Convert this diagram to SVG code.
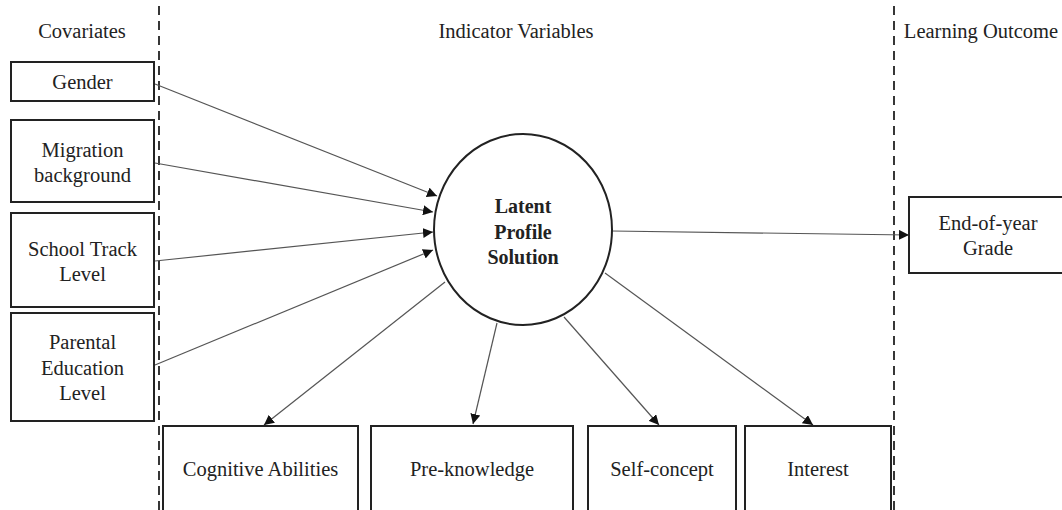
<svg xmlns="http://www.w3.org/2000/svg" width="1062" height="510" viewBox="0 0 1062 510">
<style>
.box{fill:#fff;stroke:#222;stroke-width:2}
.t{font-family:"Liberation Serif","Times New Roman",serif;font-size:20.5px;fill:#222;text-anchor:middle}
.b{font-weight:bold;font-size:20px}
.dash{stroke:#222;stroke-width:1.8;stroke-dasharray:9 6;fill:none}
.c{stroke:#555;stroke-width:1.2;fill:none;marker-end:url(#ah)}
</style>
<defs>
<marker id="ah" viewBox="0 0 10 10" refX="10" refY="5" markerWidth="10" markerHeight="10" markerUnits="userSpaceOnUse" orient="auto">
<path d="M0,0 L10,5 L0,10 Z" fill="#111"/>
</marker>
</defs>
<rect width="1062" height="510" fill="#fff"/>
<g id="dividers">
<line class="dash" x1="159" y1="6" x2="159" y2="510"/>
<line class="dash" x1="894" y1="6" x2="894" y2="510"/>
</g>
<g id="headers">
<text class="t" x="82" y="38">Covariates</text>
<text class="t" x="516" y="38">Indicator Variables</text>
<text class="t" x="981" y="38">Learning Outcome</text>
</g>
<g id="connectors">
<line class="c" x1="155" y1="84" x2="437" y2="196"/>
<line class="c" x1="155" y1="163" x2="433" y2="212"/>
<line class="c" x1="155" y1="261" x2="433" y2="232"/>
<line class="c" x1="155" y1="365" x2="433" y2="250"/>
<line class="c" x1="612" y1="231" x2="909" y2="235"/>
<line class="c" x1="445" y1="282" x2="264" y2="425"/>
<line class="c" x1="497" y1="323" x2="473" y2="424"/>
<line class="c" x1="564" y1="317" x2="659" y2="425"/>
<line class="c" x1="605" y1="273" x2="813" y2="425"/>
</g>
<g id="gender"><rect class="box" x="11" y="62" width="143" height="39"/><text class="t" x="82.5" y="89">Gender</text></g>
<g id="migration"><rect class="box" x="11" y="120" width="143" height="82"/><text class="t" x="82.5" y="157">Migration</text><text class="t" x="82.5" y="182">background</text></g>
<g id="schooltrack"><rect class="box" x="11" y="213" width="143" height="94"/><text class="t" x="82.5" y="256">School Track</text><text class="t" x="82.5" y="281">Level</text></g>
<g id="parental"><rect class="box" x="11" y="313" width="143" height="108"/><text class="t" x="82.5" y="349">Parental</text><text class="t" x="82.5" y="375">Education</text><text class="t" x="82.5" y="400">Level</text></g>
<g id="latent"><ellipse cx="523" cy="229.5" rx="89" ry="95.5" fill="#fff" stroke="#222" stroke-width="2"/><text class="t b" x="523" y="213">Latent</text><text class="t b" x="523" y="239">Profile</text><text class="t b" x="523" y="264">Solution</text></g>
<g id="grade"><rect class="box" x="909" y="197" width="160" height="76"/><text class="t" x="988" y="230">End-of-year</text><text class="t" x="988" y="255">Grade</text></g>
<g id="cognitive"><rect class="box" x="163" y="426" width="195" height="100"/><text class="t" x="260.5" y="476">Cognitive Abilities</text></g>
<g id="preknowledge"><rect class="box" x="371" y="426" width="202" height="100"/><text class="t" x="472" y="476">Pre-knowledge</text></g>
<g id="selfconcept"><rect class="box" x="588" y="426" width="148" height="100"/><text class="t" x="662" y="476">Self-concept</text></g>
<g id="interest"><rect class="box" x="745" y="426" width="146" height="100"/><text class="t" x="818" y="476">Interest</text></g>
</svg>
